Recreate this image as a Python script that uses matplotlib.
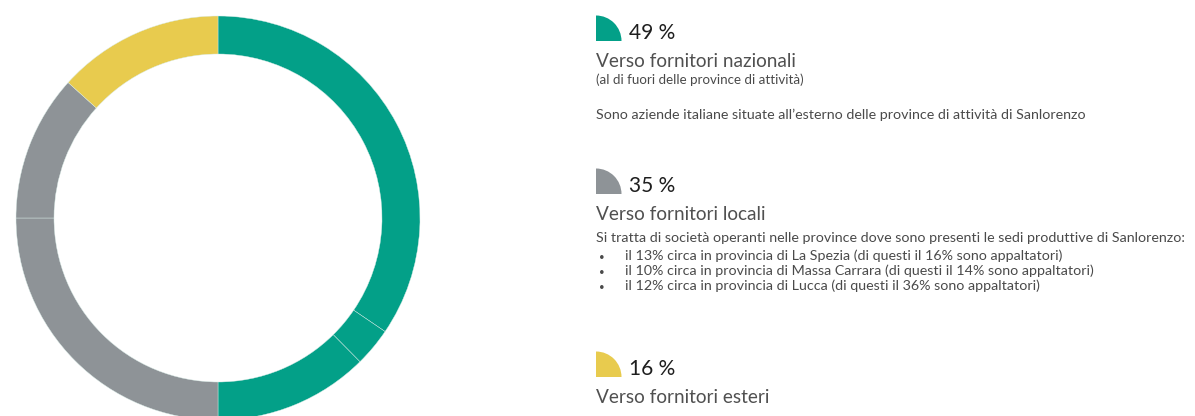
import matplotlib
matplotlib.use("Agg")
import matplotlib.pyplot as plt
from matplotlib.patches import Wedge

# donut sub-segments, clockwise from the top (in %)
share_values = [34.5, 3.1, 12.4, 25.0, 11.7, 13.3]
share_groups = ["nazionali", "nazionali", "nazionali", "locali", "locali", "esteri"]

group_colors = {"nazionali": "#03A088", "locali": "#8E9397", "esteri": "#E8CB4E"}
groups = ["nazionali", "locali", "esteri"]
percent_labels = ["49 %", "35 %", "16 %"]
titles = ["Verso fornitori nazionali", "Verso fornitori locali", "Verso fornitori esteri"]
notes_nazionali = ["(al di fuori delle province di attività)"]
desc_nazionali = "Sono aziende italiane situate all\u2019esterno delle province di attività di Sanlorenzo"
desc_locali = "Si tratta di società operanti nelle province dove sono presenti le sedi produttive di Sanlorenzo:"
bullets_locali = [
    "il 13% circa in provincia di La Spezia (di questi il 16% sono appaltatori)",
    "il 10% circa in provincia di Massa Carrara (di questi il 14% sono appaltatori)",
    "il 12% circa in provincia di Lucca (di questi il 36% sono appaltatori)",
]

W, H = 1195, 416
fig = plt.figure(figsize=(W / 100, H / 100), dpi=100)
plt.rcParams["font.family"] = ["Lato", "DejaVu Sans"]

# donut, centre (218, 218) px, outer radius 202 px
cx, cy, R = 218, 218, 202
ax = fig.add_axes([(cx - R) / W, (H - cy - R) / H, 2 * R / W, 2 * R / H])
ax.pie(share_values, colors=[group_colors[g] for g in share_groups],
       startangle=90, counterclock=False, radius=1,
       wedgeprops=dict(width=38 / R, edgecolor="#d9ece7", linewidth=0.3))
ax.set_xlim(-1, 1)
ax.set_ylim(-1, 1)
ax.set_aspect("auto")
ax.axis("off")

# overlay in pixel coordinates for the legend block
ov = fig.add_axes([0, 0, 1, 1])
ov.set_xlim(0, W)
ov.set_ylim(H, 0)
ov.axis("off")

x0 = 596
dark = "#1e1e1e"
grey = "#4a4a4a"
body = dict(fontsize=10.3, color=grey, va="baseline", ha="left")
icon_base = [41, 194, 377]
for g, base, pct, title in zip(groups, icon_base, percent_labels, titles):
    ov.add_patch(Wedge((x0, base), 25.5, 270, 360, facecolor=group_colors[g], edgecolor="none"))
    ov.text(629, base - 2, pct, fontsize=15, color=dark, va="baseline", ha="left")
    ov.text(x0, base + 26, title, fontsize=13.7, color="#505050", va="baseline", ha="left")

ov.text(x0, 84, notes_nazionali[0], fontsize=9.6, color=grey, va="baseline", ha="left")
ov.text(x0, 119, desc_nazionali, **body)
ov.text(x0, 242, desc_locali, **body)
for i, b in enumerate(bullets_locali):
    y = 260 + 15 * i
    ov.text(599, y, "\u2022", fontsize=7, color=grey, va="baseline")
    ov.text(625, y, b, **body)

fig.savefig("out.png", dpi=100)
